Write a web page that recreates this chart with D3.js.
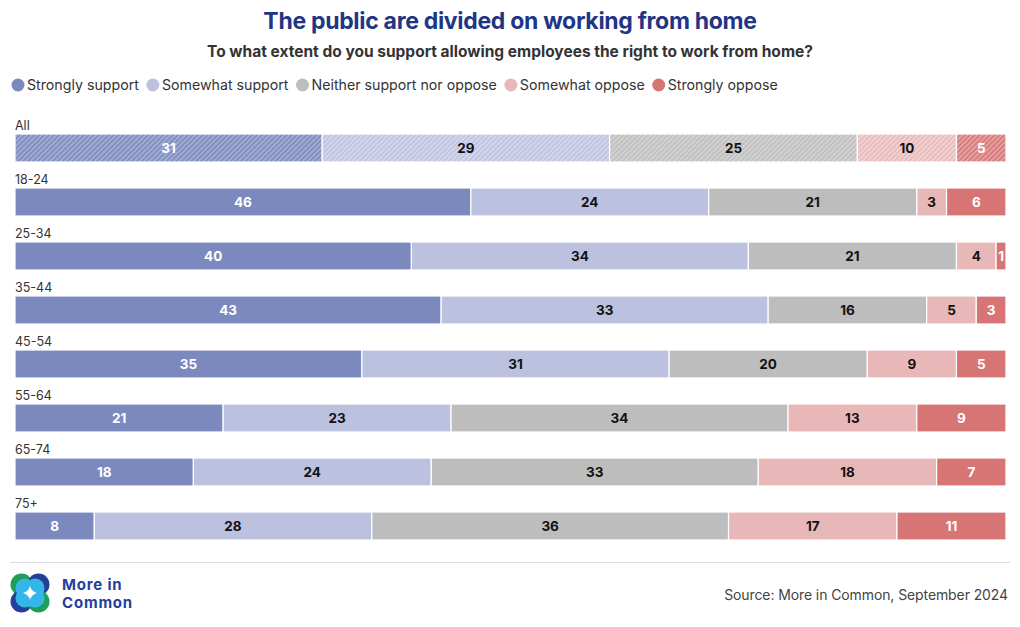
<!DOCTYPE html>
<html>
<head>
<meta charset="utf-8">
<script src="https://cdn.jsdelivr.net/npm/d3@7"></script>
<style>
  html, body { margin: 0; padding: 0; background: #fff; }
  svg { display: block; font-family: Inter, "Noto Sans", sans-serif; }
</style>
</head>
<body>
<svg id="chart" width="1020" height="627"></svg>
<script>
const categories = ["All", "18-24", "25-34", "35-44", "45-54", "55-64", "65-74", "75+"];
const seriesNames = ["Strongly support", "Somewhat support", "Neither support nor oppose", "Somewhat oppose", "Strongly oppose"];
const stronglySupport = [31, 46, 40, 43, 35, 21, 18, 8];
const somewhatSupport = [29, 24, 34, 33, 31, 23, 24, 28];
const neither = [25, 21, 21, 16, 20, 34, 33, 36];
const somewhatOppose = [10, 3, 4, 5, 9, 13, 18, 17];
const stronglyOppose = [5, 6, 1, 3, 5, 9, 7, 11];
const colors = ["#7c89bf", "#bcc1e0", "#bdbdbd", "#e8b7b8", "#d77575"];
const hatchBase = ["#a3abd3", "#d3d6ec", "#d2d2d2", "#f1d2d3", "#e5a0a0"];
const labelColors = ["#ffffff", "#111111", "#111111", "#111111", "#ffffff"];

const seriesValues = [stronglySupport, somewhatSupport, neither, somewhatOppose, stronglyOppose];
const rows = categories.map((c, i) => {
  const r = { category: c };
  seriesNames.forEach((s, k) => r[s] = seriesValues[k][i]);
  return r;
});
const stacked = d3.stack().keys(seriesNames)(rows);

const svg = d3.select("#chart");
const x = d3.scaleLinear().domain([0, 100]).range([15, 1006]);
const y = d3.scaleBand().domain(categories).range([124, 556]).paddingInner(0).paddingOuter(0);
const barH = 28;
const barTop = c => y(c) + 10;

// hatch patterns
const defs = svg.append("defs");
seriesNames.forEach((s, k) => {
  const p = defs.append("pattern")
    .attr("id", "hatch" + k)
    .attr("patternUnits", "userSpaceOnUse")
    .attr("width", 3.5).attr("height", 3.5)
    .attr("patternTransform", "rotate(45)");
  p.append("rect").attr("width", 3.5).attr("height", 3.5).attr("fill", hatchBase[k]);
  p.append("rect").attr("width", 1.5).attr("height", 3.5).attr("fill", colors[k]);
});

// Title
svg.append("text").attr("x", 510).attr("y", 29).attr("text-anchor", "middle")
  .attr("font-size", 23).attr("font-weight", 700).attr("fill", "#1f3585")
  .attr("letter-spacing", -0.3)
  .text("The public are divided on working from home");
svg.append("text").attr("x", 510).attr("y", 57).attr("text-anchor", "middle")
  .attr("font-size", 15.5).attr("font-weight", 700).attr("fill", "#333")
  .text("To what extent do you support allowing employees the right to work from home?");

// Legend
let lx = 18;
seriesNames.forEach((s, k) => {
  const g = svg.append("g");
  g.append("circle").attr("cx", lx).attr("cy", 85).attr("r", 6.5).attr("fill", colors[k]);
  const t = g.append("text").attr("x", lx + 9).attr("y", 90).attr("font-size", 14.2)
    .attr("fill", "#333").text(s);
  const w = t.node().getComputedTextLength();
  lx = lx + 9 + w + 14;
});

// Row labels
svg.append("g").selectAll("text").data(categories).join("text")
  .attr("x", 15).attr("y", c => barTop(c) - 4)
  .attr("font-size", 12.5).attr("fill", "#333")
  .text(d => d);

// Bars
const layer = svg.append("g").selectAll("g").data(stacked).join("g");
layer.selectAll("rect").data(d => d.map(v => ({ v, k: d.index }))).join("rect")
  .attr("x", d => x(d.v[0]))
  .attr("y", d => barTop(d.v.data.category))
  .attr("width", d => Math.max(0, x(d.v[1]) - x(d.v[0])))
  .attr("height", barH)
  .attr("fill", d => d.v.data.category === "All" ? `url(#hatch${d.k})` : colors[d.k])
  .attr("stroke", "#fff").attr("stroke-width", 1.2);

layer.selectAll("text").data(d => d.map(v => ({ v, k: d.index }))).join("text")
  .attr("x", d => (x(d.v[0]) + x(d.v[1])) / 2)
  .attr("y", d => barTop(d.v.data.category) + barH / 2 + 5)
  .attr("text-anchor", "middle")
  .attr("font-size", 13.5).attr("font-weight", 700)
  .attr("fill", d => labelColors[d.k])
  .text(d => d.v[1] - d.v[0]);

// Footer rule
svg.append("line").attr("x1", 10).attr("x2", 1010).attr("y1", 562.5).attr("y2", 562.5)
  .attr("stroke", "#dddddd").attr("stroke-width", 1);

// Logo
const logo = svg.append("g").attr("transform", "translate(30,593)");
const d0 = 8.5, R = 11;
const quad = [[-1, -1, "#1e9e5a"], [1, -1, "#24409a"], [-1, 1, "#24409a"], [1, 1, "#1e9e5a"]];
quad.forEach(([sx, sy, c]) => logo.append("circle").attr("cx", sx * d0).attr("cy", sy * d0).attr("r", R).attr("fill", c));
quad.forEach(([sx, sy]) => logo.append("circle").attr("cx", sx * 5).attr("cy", sy * 5).attr("r", 9.5).attr("fill", "#35b6e9"));
logo.append("path").attr("d", "M0,-7 Q1.5,-1.5 7,0 Q1.5,1.5 0,7 Q-1.5,1.5 -7,0 Q-1.5,-1.5 0,-7Z").attr("fill", "#fff");
svg.append("text").attr("x", 62).attr("y", 590).attr("font-size", 15).attr("font-weight", 700)
  .attr("fill", "#24409a").attr("letter-spacing", 0.8).text("More in");
svg.append("text").attr("x", 62).attr("y", 608).attr("font-size", 15).attr("font-weight", 700)
  .attr("fill", "#24409a").attr("letter-spacing", 0.8).text("Common");

// Source
svg.append("text").attr("x", 1008).attr("y", 600).attr("text-anchor", "end")
  .attr("font-size", 14).attr("fill", "#444").attr("letter-spacing", -0.1)
  .text("Source: More in Common, September 2024");
</script>
</body>
</html>
